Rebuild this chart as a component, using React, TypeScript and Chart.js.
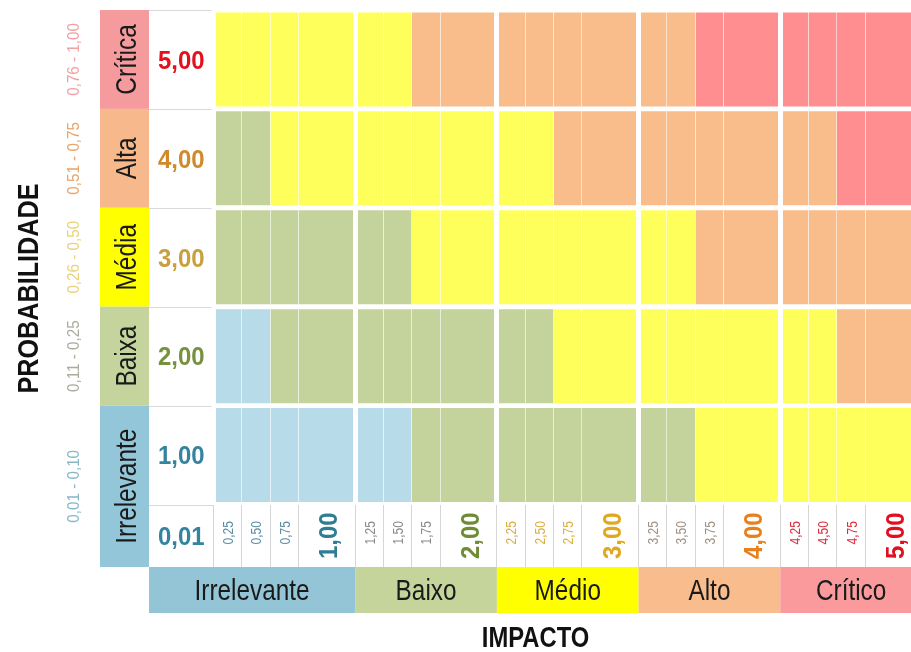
import React, { useEffect, useRef } from 'react';
import { Chart, registerables } from 'chart.js';

Chart.register(...registerables);

// ---------------- DATA ----------------
const probLevels = ['Crítica', 'Alta', 'Média', 'Baixa', 'Irrelevante'];
const probScores = ['5,00', '4,00', '3,00', '2,00', '1,00'];
const probRanges = ['0,76 - 1,00', '0,51 - 0,75', '0,26 - 0,50', '0,11 - 0,25', '0,01 - 0,10'];
const baseScore = '0,01';
const impactLevels = ['Irrelevante', 'Baixo', 'Médio', 'Alto', 'Crítico'];
const impactTicks = [
  ['0,25', '0,50', '0,75', '1,00'],
  ['1,25', '1,50', '1,75', '2,00'],
  ['2,25', '2,50', '2,75', '3,00'],
  ['3,25', '3,50', '3,75', '4,00'],
  ['4,25', '4,50', '4,75', '5,00'],
];
// risk level per impact sub-column (1 = irrelevante ... 5 = crítico)
const riskCritica = [3, 3, 3, 3, 3, 3, 4, 4, 4, 4, 4, 4, 4, 4, 5, 5, 5, 5, 5, 5];
const riskAlta = [2, 2, 3, 3, 3, 3, 3, 3, 3, 3, 4, 4, 4, 4, 4, 4, 4, 4, 5, 5];
const riskMedia = [2, 2, 2, 2, 2, 2, 3, 3, 3, 3, 3, 3, 3, 3, 4, 4, 4, 4, 4, 4];
const riskBaixa = [1, 1, 2, 2, 2, 2, 2, 2, 2, 2, 3, 3, 3, 3, 3, 3, 3, 3, 4, 4];
const riskIrrelevante = [1, 1, 1, 1, 1, 1, 2, 2, 2, 2, 2, 2, 2, 2, 3, 3, 3, 3, 3, 3];
const riskRows = [riskCritica, riskAlta, riskMedia, riskBaixa, riskIrrelevante];

// ---------------- STYLE / LAYOUT ----------------
const SUB_WEIGHTS = [1, 1, 1, 2];
const CELL_COLORS = ['#b7dbe8', '#c4d39b', '#ffff5c', '#f8bd8b', '#ff8e90'];
const LABEL_COLORS = ['#f59b9e', '#f7b98b', '#ffff00', '#c4d49c', '#93c6d8'];
const BAND_COLORS = ['#93c5d7', '#c4d49b', '#ffff00', '#f9bc8c', '#fa9a9d'];
const SCORE_COLORS = ['#e3101e', '#d08a2a', '#c9a040', '#77913f', '#35849f'];
const BASE_COLOR = '#35849f';
const RANGE_COLORS = ['#f2a0a4', '#e6a56a', '#e8d27a', '#a9ae9c', '#86b8c8'];
const SUB_TICK_COLORS = ['#5b8ea3', '#8a8a8a', '#d9b040', '#a09080', '#d83040'];
const MAIN_TICK_COLORS = ['#2f7d95', '#6e8c35', '#e0a820', '#e8801e', '#e01020'];
const FONT = "'Liberation Sans', Arial, sans-serif";

const CANVAS_W = 922;
const CANVAS_H = 652;
const VALUE_COL_W = 64.5;
const LABEL_COL_W = 49;
const BOTTOM_ROW_H = 62.5;
const BAND_H = 46;

type Col = { g: number; k: number; s: number; e: number; label: string };
const totalW = SUB_WEIGHTS.reduce((a, b) => a + b, 0);
const cols: Col[] = [];
impactTicks.forEach((ticks, g) => {
  let acc = 0;
  ticks.forEach((t, k) => {
    const s = g + acc / totalW;
    acc += SUB_WEIGHTS[k];
    const e = g + acc / totalW;
    cols.push({ g, k, s, e, label: t });
  });
});
const boundaries = Array.from(new Set(cols.flatMap((c) => [c.s, c.e]))).sort((a, b) => a - b);

function txt(
  ctx: CanvasRenderingContext2D,
  s: string,
  cx: number,
  cy: number,
  size: number,
  bold: boolean,
  color: string,
  sx: number,
  rot = 0
) {
  ctx.save();
  ctx.translate(cx, cy);
  if (rot) ctx.rotate(rot);
  ctx.scale(sx, 1);
  ctx.font = `${bold ? 'bold ' : ''}${size}px ${FONT}`;
  ctx.fillStyle = color;
  ctx.textAlign = 'center';
  ctx.textBaseline = 'alphabetic';
  ctx.fillText(s, 0, size * 0.358);
  ctx.restore();
}

const decorPlugin = {
  id: 'riskDecor',
  afterDraw(chart: any) {
    const ctx: CanvasRenderingContext2D = chart.ctx;
    const ca = chart.chartArea;
    const x = chart.scales.x;
    const y = chart.scales.y;
    const pitch = y.getPixelForValue(1) - y.getPixelForValue(0);
    const rowTop = (i: number) => y.getPixelForValue(i) - pitch / 2;
    const left0 = x.getPixelForValue(0);
    const valL = left0 - VALUE_COL_W;
    const labL = valL - LABEL_COL_W;
    const botTop = ca.bottom;
    const botBot = botTop + BOTTOM_ROW_H;
    const bandBot = botBot + BAND_H;
    const UP = -Math.PI / 2;

    ctx.save();
    // probability label cells
    probLevels.forEach((p, i) => {
      const top = rowTop(i);
      const h = i === probLevels.length - 1 ? botBot - top : pitch;
      ctx.fillStyle = LABEL_COLORS[i];
      ctx.fillRect(labL, top, LABEL_COL_W, h);
      txt(ctx, p, labL + LABEL_COL_W / 2 + 1, top + h / 2, 29, false, '#1a1a1a', 0.84, UP);
      txt(ctx, probRanges[i], labL - 27, top + h / 2, 16, false, RANGE_COLORS[i], 0.95, UP);
      // score
      txt(ctx, probScores[i], (valL + left0) / 2, y.getPixelForValue(i), 26, true, SCORE_COLORS[i], 0.92);
    });
    // light separators in value column
    ctx.strokeStyle = '#d9d9d9';
    ctx.lineWidth = 1;
    ctx.beginPath();
    for (let i = 0; i < probLevels.length; i++) {
      const yy = Math.round(rowTop(i)) + 0.5;
      ctx.moveTo(valL, yy);
      ctx.lineTo(left0 - 2, yy);
    }
    const yb = Math.round(botTop) + 0.5;
    ctx.moveTo(valL, yb);
    ctx.lineTo(left0, yb);
    ctx.stroke();

    // base score
    txt(ctx, baseScore, (valL + left0) / 2, (botTop + botBot) / 2, 26, true, BASE_COLOR, 0.92);
    // impact sub ticks
    cols.forEach((c) => {
      const cx = (x.getPixelForValue(c.s) + x.getPixelForValue(c.e)) / 2;
      const cy = (botTop + botBot) / 2;
      const main = c.k === SUB_WEIGHTS.length - 1;
      if (main) txt(ctx, c.label, cx + 1, cy, 26, true, MAIN_TICK_COLORS[c.g], 0.92, UP);
      else txt(ctx, c.label, cx, cy - 3, 15, false, SUB_TICK_COLORS[c.g], 0.8, UP);
    });
    // impact bands
    impactLevels.forEach((lv, g) => {
      const l = g === 0 ? valL : x.getPixelForValue(g);
      const r = x.getPixelForValue(g + 1);
      ctx.fillStyle = BAND_COLORS[g];
      ctx.fillRect(l, botBot, r - l, BAND_H);
      txt(ctx, lv, (l + r) / 2, botBot + BAND_H / 2, 29, false, '#1a1a1a', 0.84);
    });
    // axis titles
    txt(ctx, 'PROBABILIDADE', 27, (ca.top + botBot) / 2, 30, true, '#111', 0.84, UP);
    txt(ctx, 'IMPACTO', (valL + x.getPixelForValue(5)) / 2, bandBot + 24, 29, true, '#111', 0.82);
    ctx.restore();
  },
};

export default function App() {
  const ref = useRef<HTMLCanvasElement>(null);
  useEffect(() => {
    if (!ref.current) return;
    const datasets = cols.map((c, j) => ({
      label: c.label,
      data: riskRows.map(() => [c.s, c.e]),
      backgroundColor: riskRows.map((r) => CELL_COLORS[r[j] - 1]),
      borderWidth: 0,
      grouped: false,
      barPercentage: 0.95,
      categoryPercentage: 1,
    }));
    const chart = new Chart(ref.current, {
      type: 'bar',
      data: { labels: probLevels, datasets: datasets as any },
      options: {
        indexAxis: 'y',
        animation: false,
        responsive: false,
        devicePixelRatio: 1,
        layout: { padding: { left: 213.5, top: 10, right: 0, bottom: CANVAS_H - 504.5 - BOTTOM_ROW_H } },
        plugins: { legend: { display: false }, tooltip: { enabled: false }, title: { display: false } },
        scales: {
          y: { type: 'category', display: false, offset: true },
          x: {
            type: 'linear',
            min: 0,
            max: 5,
            position: 'bottom',
            grid: { color: '#ffffff', lineWidth: 5, drawTicks: false, z: 2 },
            ticks: { display: false, stepSize: 1 },
            border: { display: false },
          },
          xs: {
            type: 'linear',
            min: 0,
            max: 5,
            position: 'bottom',
            grid: {
              color: 'rgba(255,255,255,0.55)',
              lineWidth: 1,
              drawTicks: true,
              tickLength: BOTTOM_ROW_H,
              tickColor: '#d6d6d6',
              tickWidth: 1,
              z: 1,
            },
            ticks: { display: false },
            border: { display: false },
            afterBuildTicks: (s: any) => {
              s.ticks = boundaries.map((v) => ({ value: v }));
            },
          },
        },
      } as any,
      plugins: [decorPlugin],
    });
    return () => chart.destroy();
  }, []);
  return (
    <div style={{ position: 'absolute', left: 0, top: 0, width: 911, height: CANVAS_H, overflow: 'hidden', background: '#fff' }}>
      <canvas ref={ref} width={CANVAS_W} height={CANVAS_H} style={{ width: CANVAS_W, height: CANVAS_H, display: 'block' }} />
    </div>
  );
}
